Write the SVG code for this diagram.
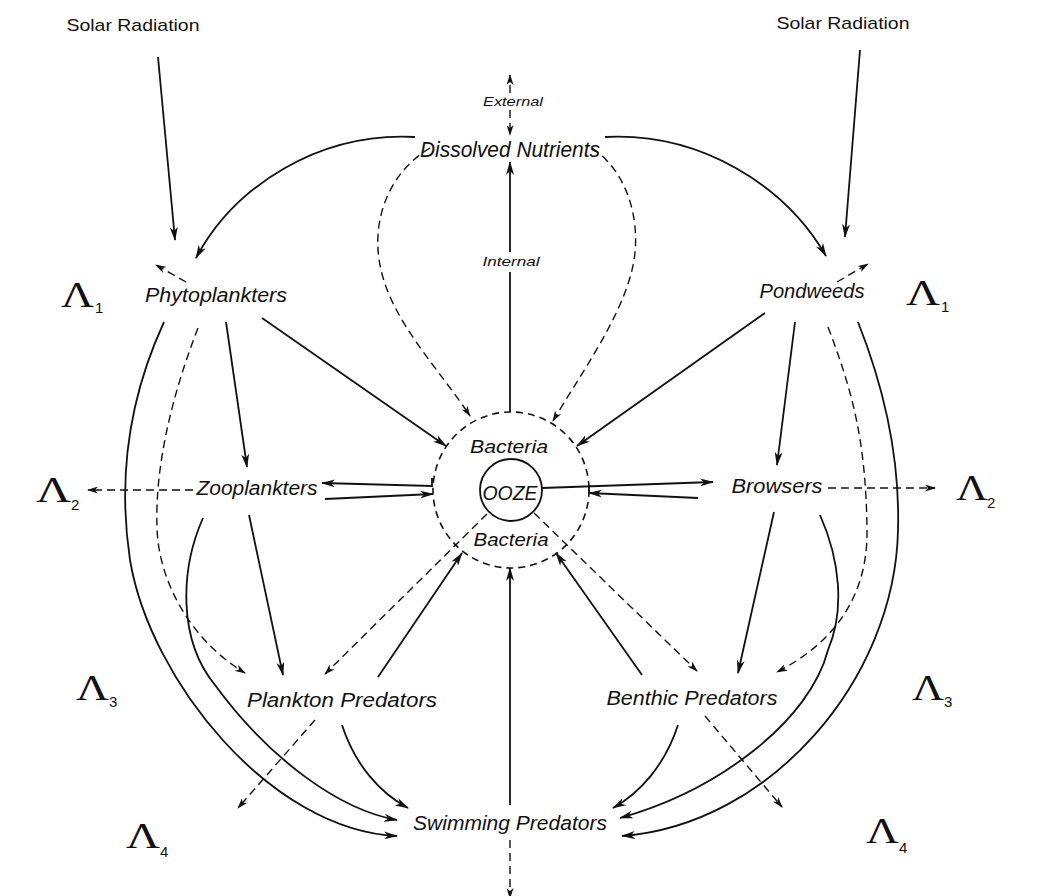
<svg xmlns="http://www.w3.org/2000/svg" width="1038" height="896" viewBox="0 0 1038 896">
<style>
.lbl{font-family:"Liberation Sans","DejaVu Sans",sans-serif;font-style:italic;fill:#111;text-anchor:middle}
.up{font-style:normal}
.lam{font-family:"Liberation Serif","DejaVu Serif",serif;fill:#111}
.sub{font-family:"Liberation Sans","DejaVu Sans",sans-serif;fill:#111;font-size:15px}
.s{fill:none;stroke:#111;stroke-width:1.8}
.d{fill:none;stroke:#111;stroke-width:1.4;stroke-dasharray:8 5}
</style>
<defs>
<marker id="ah" viewBox="0 0 14 8" refX="13" refY="4" markerWidth="14" markerHeight="8" orient="auto" markerUnits="userSpaceOnUse">
<path d="M0,0 L14,4 L0,8 L4,4 z" fill="#111" stroke="none"/>
</marker>
<marker id="ahs" viewBox="0 0 11 7" refX="10" refY="3.5" markerWidth="11" markerHeight="7" orient="auto" markerUnits="userSpaceOnUse">
<path d="M0,0 L11,3.5 L0,7 L3,3.5 z" fill="#111" stroke="none"/>
</marker>
</defs>
<rect width="1038" height="896" fill="#fff"/>

<g id="connectors">
<path class="s" d="M158,57 L175,240" marker-end="url(#ah)"/>
<path class="s" d="M860,50 L845,237" marker-end="url(#ah)"/>
<path class="d" d="M510,93 L510,75" marker-end="url(#ahs)"/>
<path class="d" d="M510,110 L510,135" marker-end="url(#ahs)"/>
<path class="s" d="M510,412 L510,272"/>
<path class="s" d="M510,252 L510,162" marker-end="url(#ah)"/>
<path class="s" d="M415,137 C320,132 235,185 196,258" marker-end="url(#ah)"/>
<path class="s" d="M605,137 C700,132 785,185 826,256" marker-end="url(#ah)"/>
<path class="d" d="M430,148 C385,175 372,225 380,265 C390,320 440,370 470,416" marker-end="url(#ahs)"/>
<path class="d" d="M592,148 C632,175 642,230 632,270 C620,320 580,375 553,421" marker-end="url(#ahs)"/>
<path class="s" d="M262,318 L446,446" marker-end="url(#ah)"/>
<path class="s" d="M765,313 L577,446" marker-end="url(#ah)"/>
<path class="s" d="M226,322 L247,467" marker-end="url(#ah)"/>
<path class="s" d="M795,322 L777,465" marker-end="url(#ah)"/>
<path class="d" d="M186,282 L156,265" stroke-dasharray="6 4" marker-end="url(#ahs)"/>
<path class="d" d="M837,282 L868,264" stroke-dasharray="6 4" marker-end="url(#ahs)"/>
<path class="d" d="M193,490 L88,490" marker-end="url(#ahs)"/>
<path class="d" d="M828,488 L935,488" marker-end="url(#ahs)"/>
<path class="s" d="M432,478 L432,486 L322,483" marker-end="url(#ah)"/>
<path class="s" d="M325,499 L433,494" marker-end="url(#ah)"/>
<path class="s" d="M542,488 L713,482" marker-end="url(#ah)"/>
<path class="s" d="M589,485 L589,493"/>
<path class="s" d="M698,498 L589,493" marker-end="url(#ah)"/>
<path class="s" d="M249,515 L283,675" marker-end="url(#ah)"/>
<path class="s" d="M774,512 L738,673" marker-end="url(#ah)"/>
<path class="s" d="M164,322 C128,400 118,480 130,560 C150,680 270,830 397,836" marker-end="url(#ah)"/>
<path class="s" d="M203,518 C180,570 178,640 215,685 C270,760 340,810 397,820" marker-end="url(#ah)"/>
<path class="d" d="M198,328 C170,400 155,470 157,527 C158,580 190,640 245,673" marker-end="url(#ahs)"/>
<path class="s" d="M858,322 C885,390 900,460 898,530 C895,680 770,825 622,836" marker-end="url(#ah)"/>
<path class="s" d="M820,515 C840,560 845,610 828,650 C810,720 720,790 620,818" marker-end="url(#ah)"/>
<path class="d" d="M828,327 C852,390 866,440 867,530 C868,600 830,645 777,672" marker-end="url(#ahs)"/>
<path class="d" d="M487,514 L325,674" marker-end="url(#ahs)"/>
<path class="s" d="M378,677 L462,553" marker-end="url(#ah)"/>
<path class="s" d="M642,675 L556,553" marker-end="url(#ah)"/>
<path class="d" d="M534,513 L697,671" marker-end="url(#ahs)"/>
<path class="s" d="M510,805 L510,568" marker-end="url(#ah)"/>
<path class="d" d="M510,840 L510,898" marker-end="url(#ahs)"/>
<path class="s" d="M342,725 C355,765 380,793 408,808" marker-end="url(#ah)"/>
<path class="s" d="M678,725 C665,765 640,793 613,808" marker-end="url(#ah)"/>
<path class="d" d="M315,720 L238,808" stroke-dasharray="9 4 2 4" marker-end="url(#ahs)"/>
<path class="d" d="M705,716 L782,807" stroke-dasharray="9 5" marker-end="url(#ahs)"/>
</g>

<g id="solar-left"><text class="lbl up" x="133" y="31" font-size="17" textLength="133" lengthAdjust="spacingAndGlyphs">Solar Radiation</text></g>
<g id="solar-right"><text class="lbl up" x="843" y="29" font-size="17" textLength="133" lengthAdjust="spacingAndGlyphs">Solar Radiation</text></g>
<g id="external"><text class="lbl" x="513" y="106" font-size="13" textLength="60" lengthAdjust="spacingAndGlyphs">External</text></g>
<g id="dissolved-nutrients"><text class="lbl" x="510" y="157" font-size="22" textLength="180" lengthAdjust="spacingAndGlyphs">Dissolved Nutrients</text></g>
<g id="internal"><text class="lbl" x="511" y="266" font-size="13" textLength="57" lengthAdjust="spacingAndGlyphs">Internal</text></g>
<g id="phytoplankters"><text class="lbl" x="216" y="302" font-size="20" textLength="142" lengthAdjust="spacingAndGlyphs">Phytoplankters</text></g>
<g id="pondweeds"><text class="lbl" x="812" y="298" font-size="20" textLength="105" lengthAdjust="spacingAndGlyphs">Pondweeds</text></g>
<g id="zooplankters"><text class="lbl" x="257" y="495" font-size="20" textLength="121" lengthAdjust="spacingAndGlyphs">Zooplankters</text></g>
<g id="browsers"><text class="lbl" x="777" y="493" font-size="20" textLength="91" lengthAdjust="spacingAndGlyphs">Browsers</text></g>
<g id="ooze-bacteria">
<circle cx="511" cy="490" r="78" fill="none" stroke="#111" stroke-width="1.6" stroke-dasharray="7 5"/>
<circle cx="511" cy="490" r="31" fill="#fff" stroke="#111" stroke-width="1.8"/>
<text class="lbl" x="509" y="453" font-size="19" textLength="78" lengthAdjust="spacingAndGlyphs">Bacteria</text>
<text class="lbl" x="510" y="500" font-size="20" textLength="55" lengthAdjust="spacingAndGlyphs">OOZE</text>
<text class="lbl" x="511" y="546" font-size="19" textLength="75" lengthAdjust="spacingAndGlyphs">Bacteria</text>
</g>
<g id="plankton-predators"><text class="lbl" x="342" y="707" font-size="20" textLength="190" lengthAdjust="spacingAndGlyphs">Plankton Predators</text></g>
<g id="benthic-predators"><text class="lbl" x="692" y="705" font-size="20" textLength="171" lengthAdjust="spacingAndGlyphs">Benthic Predators</text></g>
<g id="swimming-predators"><text class="lbl" x="510" y="830" font-size="20" textLength="194" lengthAdjust="spacingAndGlyphs">Swimming Predators</text></g>

<g id="lambda-1-left"><text class="lam" x="61" y="307" font-size="36" textLength="33" lengthAdjust="spacingAndGlyphs">Λ</text><text class="sub" x="95" y="313">1</text></g>
<g id="lambda-1-right"><text class="lam" x="906" y="305" font-size="36" textLength="34" lengthAdjust="spacingAndGlyphs">Λ</text><text class="sub" x="941" y="312">1</text></g>
<g id="lambda-2-left"><text class="lam" x="36" y="502" font-size="36" textLength="35" lengthAdjust="spacingAndGlyphs">Λ</text><text class="sub" x="71" y="510">2</text></g>
<g id="lambda-2-right"><text class="lam" x="956" y="500" font-size="36" textLength="32" lengthAdjust="spacingAndGlyphs">Λ</text><text class="sub" x="987" y="508">2</text></g>
<g id="lambda-3-left"><text class="lam" x="76" y="700" font-size="36" textLength="33" lengthAdjust="spacingAndGlyphs">Λ</text><text class="sub" x="109" y="707">3</text></g>
<g id="lambda-3-right"><text class="lam" x="912" y="700" font-size="36" textLength="32" lengthAdjust="spacingAndGlyphs">Λ</text><text class="sub" x="944" y="707">3</text></g>
<g id="lambda-4-left"><text class="lam" x="126" y="848" font-size="36" textLength="34" lengthAdjust="spacingAndGlyphs">Λ</text><text class="sub" x="160" y="857">4</text></g>
<g id="lambda-4-right"><text class="lam" x="866" y="843" font-size="36" textLength="33" lengthAdjust="spacingAndGlyphs">Λ</text><text class="sub" x="899" y="853">4</text></g>
</svg>
